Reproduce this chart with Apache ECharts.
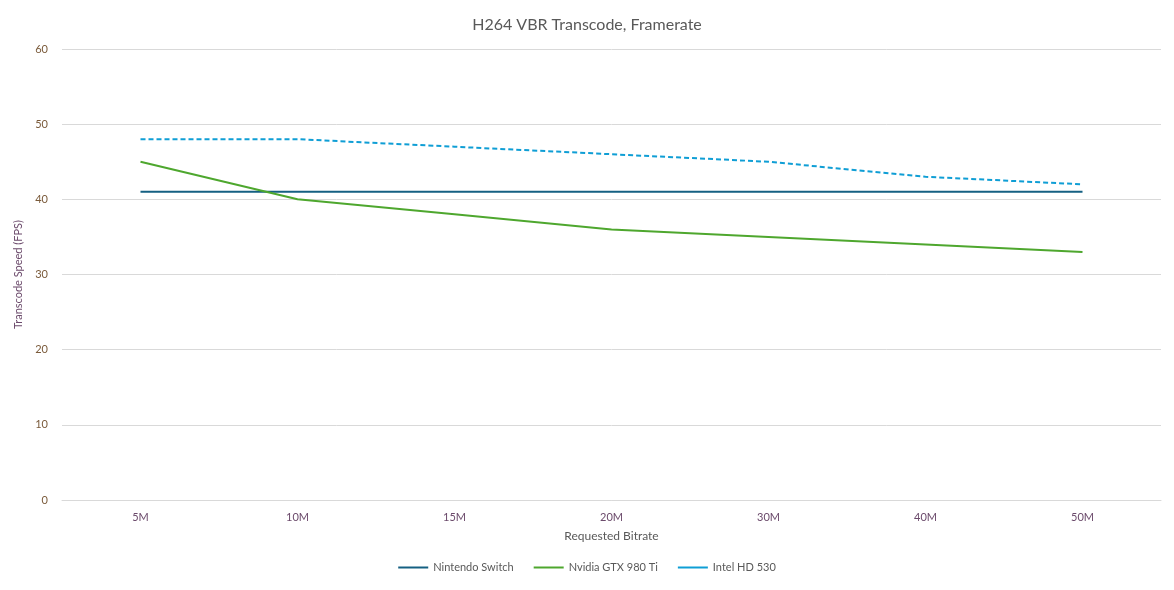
<!DOCTYPE html>
<html lang="en">
<head>
    <meta charset="UTF-8">
    <title>H264 VBR Transcode, Framerate</title>
    <style>
        html,body{ width:100%; height:100%; margin:0; padding:0; background:#fff; }
        #chart{ width:1174px; height:590px; }
    </style>
</head>
<body>
    <div id="chart"></div>
    <script src="https://cdn.jsdelivr.net/npm/echarts@6/dist/echarts.min.js"></script>
    <script>
        var categories = ['5M', '10M', '15M', '20M', '30M', '40M', '50M'];
        var switchFps = [41, 41, 41, 41, 41, 41, 41];
        var nvidiaFps = [45, 40, 38, 36, 35, 34, 33];
        var intelFps = [48, 48, 47, 46, 45, 43, 42];

        var myChart = echarts.init(document.getElementById('chart'));
        var font = 'Lato, "Open Sans", sans-serif';
        var option = {
            animation: false,
            title: {
                text: 'H264 VBR Transcode, Framerate',
                left: 'center',
                top: 12,
                textStyle: { color: '#595959', fontSize: 16, fontWeight: 'normal', fontFamily: font }
            },
            grid: { left: 62, right: 13, top: 49, bottom: 90, containLabel: false },
            legend: {
                bottom: 12,
                itemWidth: 30,
                itemHeight: 2,
                itemGap: 20,
                icon: 'rect',
                textStyle: { color: '#595959', fontSize: 11, fontFamily: font },
                data: ['Nintendo Switch', 'Nvidia GTX 980 Ti', 'Intel HD 530']
            },
            xAxis: {
                type: 'category',
                data: categories,
                boundaryGap: true,
                name: 'Requested Bitrate',
                nameLocation: 'middle',
                nameGap: 30,
                nameTextStyle: { color: '#595959', fontSize: 12, fontFamily: font },
                axisLine: { lineStyle: { color: '#d9d9d9' } },
                axisTick: { show: false },
                axisLabel: { color: '#6b4a6b', fontSize: 11, margin: 12, fontFamily: font }
            },
            yAxis: {
                type: 'value',
                min: 0,
                max: 60,
                interval: 10,
                name: 'Transcode Speed (FPS)',
                nameLocation: 'middle',
                nameGap: 34,
                nameTextStyle: { color: '#6b4a6b', fontSize: 11, fontFamily: font },
                axisLine: { show: false },
                axisTick: { show: false },
                splitLine: { lineStyle: { color: '#d9d9d9' } },
                axisLabel: { color: '#7a5a3a', fontSize: 11, margin: 14, fontFamily: font }
            },
            series: [
                {
                    name: 'Nintendo Switch', type: 'line', data: switchFps,
                    symbol: 'none', itemStyle: { color: '#156082' },
                    lineStyle: { color: '#156082', width: 2 }
                },
                {
                    name: 'Nvidia GTX 980 Ti', type: 'line', data: nvidiaFps,
                    symbol: 'none', itemStyle: { color: '#4ea72e' },
                    lineStyle: { color: '#4ea72e', width: 2 }
                },
                {
                    name: 'Intel HD 530', type: 'line', data: intelFps,
                    symbol: 'none', itemStyle: { color: '#0f9ed5' },
                    lineStyle: { color: '#0f9ed5', width: 2, type: [5, 3] }
                }
            ]
        };
        myChart.setOption(option);
    </script>
</body>
</html>
